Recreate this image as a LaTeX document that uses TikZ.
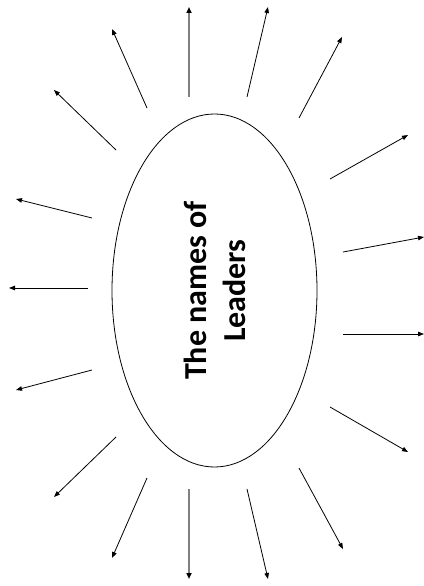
\documentclass[tikz,border=0pt]{standalone}
\usepackage{fontspec}
\usetikzlibrary{arrows.meta,shapes.geometric}
\newfontfamily\labelfont{Carlito}
\definecolor{shaft}{RGB}{128,128,128}

\begin{document}
\begin{tikzpicture}[x=1pt,y=-1pt,
    ray/.style={line width=0.8pt,-{Triangle[length=6pt,width=4.5pt]}},
    grayray/.style={line width=1.8pt,draw=shaft,-{Triangle[length=6pt,width=5pt,black]}}]
  \useasboundingbox (0,0) rectangle (423,586);
  \node[ellipse,draw,line width=0.8pt,rotate=90,minimum width=353pt,minimum height=205pt,inner sep=0pt,
    align=center,font=\labelfont\bfseries\fontsize{32}{39}\selectfont] (oval) at (214.5,290.5) {The names of\\Leaders};
  % slanted rays
  \foreach \sx/\sy/\ex/\ey [count=\i] in {147/108/112/29, 116/150/54/90, 92/218/16/199, 88/288/9/288,
      92/370/16/390, 116/437/54/497, 147/478/112/558, 247/97/268/7, 299/118/342/37, 330/179/408/135,
      343/252/424/237, 343/334/424/334, 330/407/408/452, 299/468/343/549, 247/489/268/579}{
    \coordinate (s\i) at (\sx,\sy);
    \coordinate (e\i) at (\ex,\ey);
    \draw[ray] (s\i) -- (e\i);
  }
  % vertical rays
  \coordinate (topS) at (189,97);
  \coordinate (topE) at (189,7);
  \coordinate (botS) at (189,489);
  \coordinate (botE) at (189,579);
  \draw[grayray] (topS) -- (topE);
  \draw[grayray] (botS) -- (botE);
\end{tikzpicture}
\end{document}
